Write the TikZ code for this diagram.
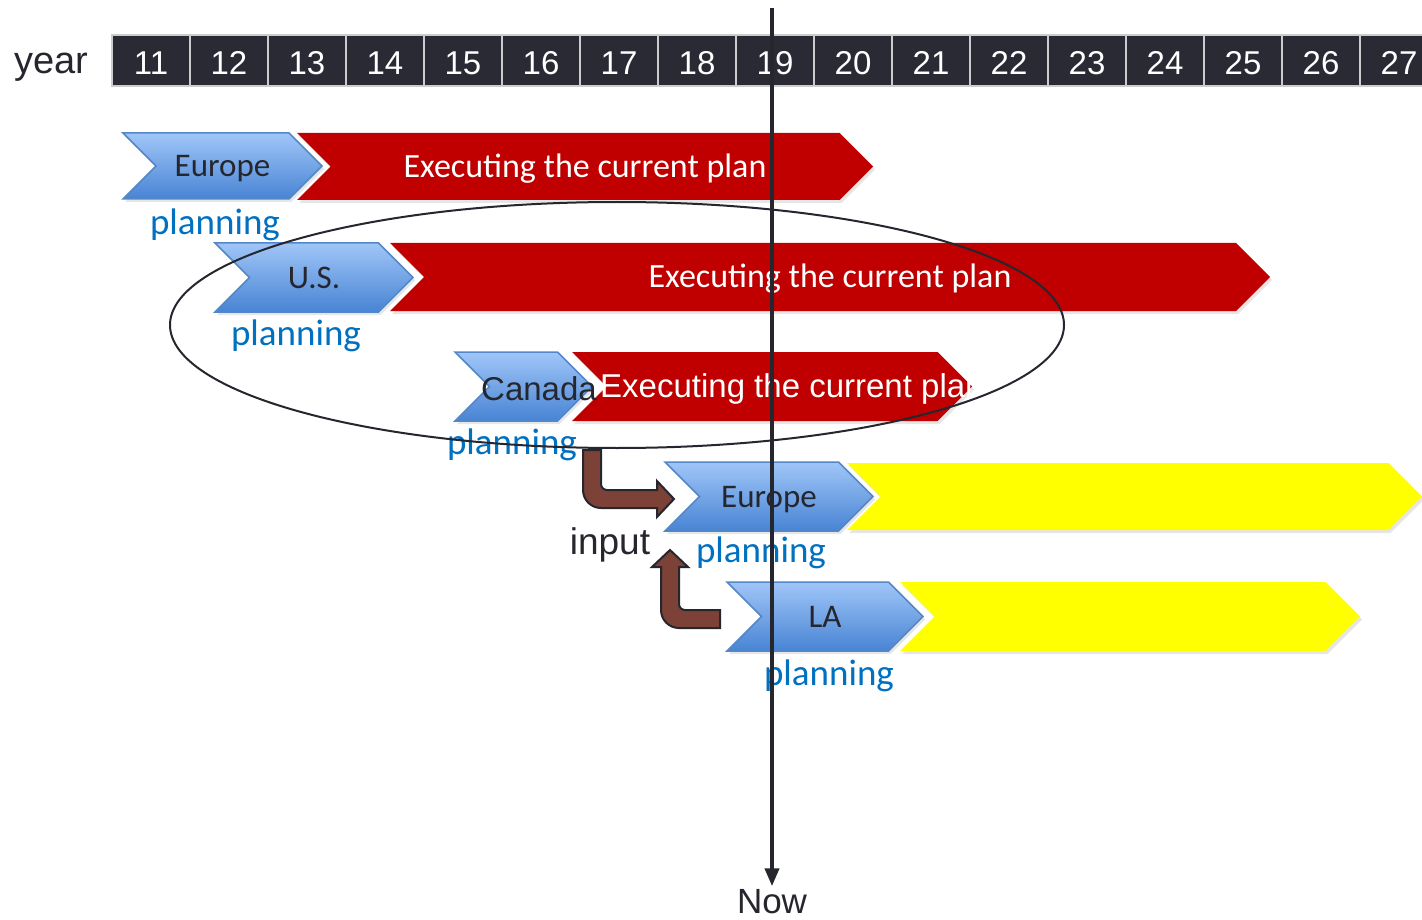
\documentclass[tikz,border=0pt]{standalone}
\usepackage{fontspec}
\setmainfont{Carlito}
\newfontfamily\arialfont{Liberation Sans}
\usetikzlibrary{shapes.symbols,shapes.geometric,arrows.meta,shadows}

\definecolor{yearbg}{RGB}{42,42,53}
\definecolor{planred}{RGB}{192,0,0}
\definecolor{planblue}{RGB}{0,112,192}
\definecolor{planyellow}{RGB}{255,255,0}
\definecolor{chevtop}{RGB}{160,198,248}
\definecolor{chevbot}{RGB}{72,132,212}
\definecolor{chevline}{RGB}{84,135,200}
\definecolor{inputbrown}{RGB}{124,66,56}
\definecolor{inktext}{RGB}{38,38,46}

\tikzset{
  yearbox/.style={draw=gray!40, line width=1.5pt, fill=yearbg, text=white,
    minimum width=78pt, minimum height=51pt, inner sep=0pt,
    text height=28pt, text depth=0.4pt,
    font=\arialfont\fontsize{33}{40}\selectfont},
  arrowshape/.style={signal, signal to=east, signal from=west,
    signal pointer angle=90, inner sep=0pt,
    text height=25pt, text depth=3.5pt,
    drop shadow={opacity=0.2, shadow xshift=2pt, shadow yshift=-3pt}},
  region/.style={arrowshape, top color=chevtop, bottom color=chevbot,
    draw=chevline, line width=1.5pt, text=inktext,
    font=\fontsize{33}{40}\selectfont},
  execute/.style={arrowshape, fill=planred, text=white,
    font=\fontsize{34}{40}\selectfont},
  future/.style={arrowshape, fill=planyellow},
  plan/.style={text=planblue, font=\fontsize{37}{44}\selectfont, inner sep=0pt},
  inputarrow/.style={fill=inputbrown, draw=inktext, line width=2pt}
}

\begin{document}
\begin{tikzpicture}[x=1pt,y=-1pt]
\useasboundingbox (0,0) rectangle (1422,920);

% year row
\node[text=inktext, inner sep=0pt, font=\arialfont\fontsize{38}{44}\selectfont] (yearlbl) at (51,67) {year};
\foreach \yr [count=\i from 0] in {11,...,27}
  \node[yearbox] (y\yr) at (151+78*\i,60.5) {\yr};

% executing and future bars (behind the chevrons)
\node[execute, minimum width=576pt, minimum height=67pt] (exec1) at (585,166.5) {Executing the current plan};
\node[execute, minimum width=880pt, minimum height=68pt] (exec2) at (830,277) {Executing the current plan};
\node[execute, minimum width=400pt, minimum height=69pt] (exec3) at (772,386.5) {};
\node[future, minimum width=575pt, minimum height=67pt] (fut1) at (1134.5,496.5) {};
\node[future, minimum width=460pt, minimum height=69pt] (fut2) at (1130,616.5) {};

% planning chevrons
\node[region, minimum width=199pt, minimum height=66pt] (eu1) at (222.5,166) {Europe};
\node[region, minimum width=198pt, minimum height=69pt] (us) at (314,277.5) {U.S.};
\node[region, minimum width=137pt, minimum height=69pt] (ca) at (523.5,386.5) {};
\node[region, minimum width=208pt, minimum height=69pt] (eu2) at (769,496.5) {Europe};
\node[region, minimum width=196pt, minimum height=69pt] (la) at (825,616.5) {LA};

% texts that run past their shapes
\node[text=inktext, inner sep=0pt, font=\arialfont\fontsize{33}{40}\selectfont] (catext) at (539,389) {Canada};
\node[anchor=west, text=white, inner sep=0pt, font=\arialfont\fontsize{33}{40}\selectfont] (exec3text) at (600,389) {Executing the current plan};

% planning labels
\node[plan] (eu1plan) at (215,225) {planning};
\node[plan] (usplan) at (296,336) {planning};
\node[plan] (caplan) at (512,445) {planning};
\node[plan] (eu2plan) at (761,553) {planning};
\node[plan] (laplan) at (829,676) {planning};

% input arrows
\draw[inputarrow] (583,450) [rounded corners=18pt] -- (583,508) [sharp corners] -- (657,508)
  -- (657,517) -- (674,499) -- (657,481) -- (657,490) [rounded corners=6pt] -- (601,490)
  [sharp corners] -- (601,450) -- cycle;
\draw[inputarrow] (720,610) [rounded corners=6pt] -- (679,610) [sharp corners] -- (679,567)
  -- (688,567) -- (670,550) -- (652,567) -- (661,567) [rounded corners=18pt] -- (661,628)
  [sharp corners] -- (720,628) -- cycle;
\node[text=inktext, inner sep=0pt, font=\arialfont\fontsize{37}{44}\selectfont] (inputlbl) at (610,545) {input};

% group of current plans
\node[draw=inktext, line width=2pt, ellipse, minimum width=894pt, minimum height=246pt, inner sep=0pt] (group) at (617,325) {};

% now marker
\coordinate (nowtop) at (772,8);
\node[text=inktext, font=\arialfont\fontsize{35}{42}\selectfont] (nowlbl) at (772,902) {Now};
\draw[inktext, line width=4pt, -{Triangle[length=18pt,width=14pt]}] (nowtop) -- (nowlbl.north);

\end{tikzpicture}
\end{document}
